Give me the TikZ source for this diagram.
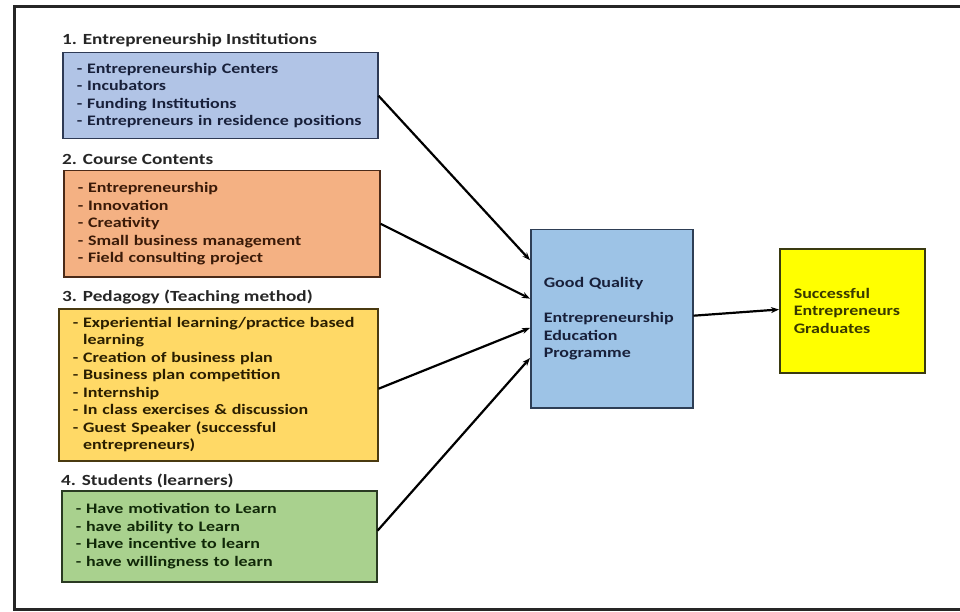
\documentclass[tikz,border=0pt]{standalone}
\usepackage{fontspec}
\setmainfont{Carlito}[FakeStretch=1.24]
\usetikzlibrary{calc,arrows.meta}
\definecolor{fillA}{HTML}{B1C4E6}
\definecolor{fillB}{HTML}{F4B183}
\definecolor{fillC}{HTML}{FFD966}
\definecolor{fillD}{HTML}{A9D18E}
\definecolor{fillM}{HTML}{9DC3E6}
\definecolor{fillY}{HTML}{FFFF00}
\definecolor{edgeA}{HTML}{2E3A55}
\definecolor{edgeB}{HTML}{4A2A18}
\definecolor{edgeC}{HTML}{4A3A10}
\definecolor{edgeD}{HTML}{2A3A22}
\definecolor{edgeM}{HTML}{2E3E55}
\definecolor{edgeY}{HTML}{3A3A10}
\definecolor{txtA}{HTML}{18203A}
\definecolor{txtB}{HTML}{3A1A08}
\definecolor{txtC}{HTML}{2A1E00}
\definecolor{txtD}{HTML}{102808}
\definecolor{txtY}{HTML}{383800}
\definecolor{ttl}{HTML}{262626}
\tikzset{
  itembox/.style={anchor=north west, align=left, line width=1.5pt,
    inner xsep=14pt, inner ysep=0pt,
    font=\bfseries\fontsize{14.5}{17.5}\selectfont},
  titletext/.style={anchor=west, inner sep=0pt, text=ttl,
    font=\bfseries\fontsize{15.5}{18}\selectfont},
  conn/.style={line width=2.2pt, -{Stealth[length=8pt,width=6pt]}}
}
\begin{document}
\begin{tikzpicture}[x=1pt,y=-1pt]
\useasboundingbox (0,0) rectangle (960,612);
\clip (0,0) rectangle (960,612);
% outer frame
\draw[line width=3pt, color=black!85] (965,7) -- (14.5,7) -- (14.5,609) -- (965,609);

% titles
\node[titletext] (t1) at (62,40) {1. Entrepreneurship Institutions};
\node[titletext] (t2) at (62,159) {2. Course Contents};
\node[titletext] (t3) at (62,297) {3. Pedagogy (Teaching method)};
\node[titletext] (t4) at (61,481) {4. Students (learners)};

% boxes
\node[itembox, draw=edgeA, fill=fillA, text=txtA, text width=287pt, minimum height=86pt] (b1) at (62,52)
  {- Entrepreneurship Centers\\- Incubators\\- Funding Institutions\\- Entrepreneurs in residence positions};
\node[itembox, draw=edgeB, fill=fillB, text=txtB, text width=288pt, minimum height=106pt] (b2) at (63,170)
  {- Entrepreneurship\\- Innovation\\- Creativity\\- Small business management\\- Field consulting project};
\node[itembox, draw=edgeC, fill=fillC, text=txtC, text width=291pt, minimum height=152pt] (b3) at (58,308)
  {- Experiential learning/practice based\\\hphantom{- }learning\\- Creation of business plan\\- Business plan competition\\- Internship\\- In class exercises \& discussion\\- Guest Speaker (successful\\\hphantom{- }entrepreneurs)};
\node[itembox, draw=edgeD, fill=fillD, text=txtD, text width=287pt, minimum height=91pt] (b4) at (61,490)
  {- Have motivation to Learn\\- have ability to Learn\\- Have incentive to learn\\- have willingness to learn};

\node[itembox, inner xsep=13pt, draw=edgeM, fill=fillM, text=txtA, text width=136pt, minimum height=178pt] (mid) at (530,229)
  {Good Quality\\\mbox{}\\Entrepreneurship\\Education\\Programme};
\node[itembox, draw=edgeY, fill=fillY, text=txtY, text width=117pt, minimum height=124pt] (res) at (779,248)
  {Successful\\Entrepreneurs\\Graduates};

% connectors
\draw[conn] (b1.east) -- ($(mid.north west)!0.174!(mid.south west)$);
\draw[conn] (b2.east) -- ($(mid.north west)!0.388!(mid.south west)$);
\draw[conn] ($(b3.north east)!0.526!(b3.south east)$) -- ($(mid.north west)!0.551!(mid.south west)$);
\draw[conn] ($(b4.north east)!0.44!(b4.south east)$) -- ($(mid.north west)!0.719!(mid.south west)$);
\draw[conn] ($(mid.north east)!0.483!(mid.south east)$) -- ($(res.north west)!0.49!(res.south west)$);
\end{tikzpicture}
\end{document}
